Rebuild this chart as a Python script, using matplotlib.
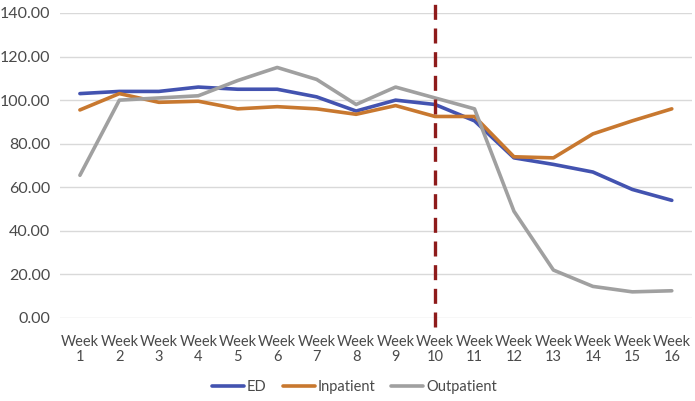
import matplotlib
matplotlib.use("Agg")
import matplotlib.pyplot as plt

weeks = [f"Week\n{i}" for i in range(1, 17)]
ed = [103, 104, 104, 106, 105, 105, 101.5, 95, 100, 98, 90.5, 73.5, 70.5, 67, 59, 54]
inpatient = [95.5, 103, 99, 99.5, 96, 97, 96, 93.5, 97.5, 92.5, 92.5, 74, 73.5, 84.5, 90.5, 96]
outpatient = [65.5, 100, 101, 102, 109, 115, 109.5, 98, 106, 101, 96, 49, 22, 14.5, 12, 12.5]
yticks = [0, 20, 40, 60, 80, 100, 120, 140]
marker_week = 9  # index of Week 10

plt.rcParams['font.family'] = ['Lato', 'DejaVu Sans']

fig = plt.figure(figsize=(6.95, 4.01), dpi=100)
ax = fig.add_axes([0.0866, 0.207, 0.9084, 0.7606])

x = list(range(len(weeks)))
ax.plot(x, ed, color='#4353B0', lw=2.6, label='ED', solid_capstyle='round')
ax.plot(x, inpatient, color='#C8782F', lw=2.6, label='Inpatient', solid_capstyle='round')
ax.plot(x, outpatient, color='#A0A0A0', lw=2.6, label='Outpatient', solid_capstyle='round')

ax.plot([marker_week, marker_week], [-4, 144.5], color='#8E1B1B', lw=2.4,
        dashes=(4.5, 2.6), clip_on=False, zorder=5)

ax.set_xlim(-0.5, len(weeks) - 0.5)
ax.set_ylim(0, 140)
ax.set_yticks(yticks)
ax.set_yticklabels([f"{v:.2f}" for v in yticks])
ax.set_xticks(x)
ax.set_xticklabels(weeks, linespacing=1.15)
ax.tick_params(axis='both', length=0, labelsize=10.5, labelcolor='#4A4A4A')
ax.tick_params(axis='y', labelsize=11.5, pad=7)
ax.tick_params(axis='x', pad=12)
ax.grid(axis='y', color='#D9D9D9', lw=1)
ax.set_axisbelow(True)
for s in ax.spines.values():
    s.set_visible(False)

leg = fig.legend(loc='lower center', bbox_to_anchor=(0.51, -0.015), ncol=3, frameon=False,
                 fontsize=10.5, handlelength=2.2, columnspacing=1.1, handletextpad=0.2)
for t in leg.get_texts():
    t.set_color('#4A4A4A')

fig.savefig('out.png', dpi=100)
